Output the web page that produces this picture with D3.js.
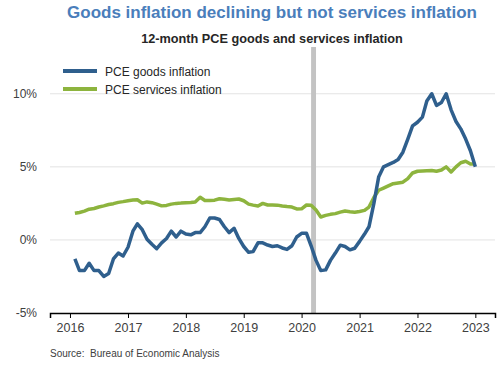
<!DOCTYPE html>
<html>
<head>
<meta charset="utf-8">
<script src="https://cdn.jsdelivr.net/npm/d3@7"></script>
<style>
  html, body { margin: 0; padding: 0; background: #fff; }
  svg { display: block; font-family: "Liberation Sans", Arial, sans-serif; }
</style>
</head>
<body>
<svg id="chart" width="500" height="365"></svg>
<script>
// ---- Data ----
const title = "Goods inflation declining but not services inflation";
const subtitle = "12-month PCE goods and services inflation";
const sourceText = "Source:  Bureau of Economic Analysis";
const seriesNames = ["PCE goods inflation", "PCE services inflation"];
const firstMonth = "2016-02";   // monthly points (12-month % change)
const yTicks = [-5, 0, 5, 10];
const xTickYears = [2016, 2017, 2018, 2019, 2020, 2021, 2022, 2023];
const recession = ["2020-03", "2020-04"];

const goods = [
  -1.3, -2.1, -2.1, -1.6, -2.1, -2.1, -2.5, -2.3, -1.3, -0.9, -1.1,
  -0.5, 0.6, 1.1, 0.7, 0.05, -0.3, -0.6, -0.2, 0.1, 0.6, 0.2, 0.6,
  0.4, 0.35, 0.5, 0.5, 0.9, 1.5, 1.5, 1.4, 0.9, 0.5, 0.8, 0.1,
  -0.45, -0.85, -0.8, -0.2, -0.2, -0.35, -0.45, -0.4, -0.55, -0.65, -0.4, 0.2,
  0.45, 0.45, -0.4, -1.4, -2.1, -2.05, -1.4, -0.9, -0.36, -0.45, -0.68, -0.57,
  -0.1, 0.4, 0.9, 2.5, 4.3, 5.0, 5.15, 5.3, 5.5, 6.0, 6.9, 7.8,
  8.05, 8.4, 9.5, 10.0, 9.2, 9.4, 10.0, 8.9, 8.1, 7.6, 6.9, 6.1,
  5.0
];
const services = [
  1.82, 1.88, 1.97, 2.1, 2.15, 2.25, 2.33, 2.42, 2.48, 2.57, 2.62,
  2.68, 2.73, 2.75, 2.52, 2.6, 2.55, 2.45, 2.33, 2.36, 2.45, 2.5, 2.52,
  2.55, 2.56, 2.6, 2.92, 2.7, 2.7, 2.72, 2.82, 2.78, 2.73, 2.77, 2.8,
  2.68, 2.45, 2.38, 2.32, 2.5, 2.39, 2.39, 2.38, 2.32, 2.28, 2.25, 2.12,
  2.13, 2.39, 2.38, 2.05, 1.57, 1.68, 1.75, 1.8, 1.9, 1.98, 1.93, 1.9,
  1.95, 2.02, 2.25, 2.9, 3.4, 3.55, 3.7, 3.85, 3.9, 3.95, 4.2, 4.58,
  4.7, 4.72, 4.74, 4.75, 4.7, 4.78, 5.0, 4.65, 5.0, 5.28, 5.38, 5.2,
  5.2
];

// ---- Chart ----
const parseMonth = d3.timeParse("%Y-%m");
const start = parseMonth(firstMonth);
const dates = goods.map((_, i) => d3.timeMonth.offset(start, i));

const colors = { goods: "#2f5f8d", services: "#8db43e" };

const svg = d3.select("#chart");
const x = d3.scaleTime()
  .domain([new Date(2015, 7, 28), new Date(2023, 4, 5)])
  .range([50, 495]);
const y = d3.scaleLinear().domain([-5, 13.2]).range([313, 47]);

// Title
svg.append("text").attr("x", 272).attr("y", 18).attr("text-anchor", "middle")
  .attr("font-size", 17).attr("font-weight", "bold").attr("fill", "#4a7ebb")
  .text(title);
svg.append("text").attr("x", 272).attr("y", 43).attr("text-anchor", "middle")
  .attr("font-size", 12.7).attr("font-weight", "bold").attr("fill", "#262626")
  .text(subtitle);

// Gridlines
svg.append("g").selectAll("line").data(yTicks.filter(d => d > -5)).join("line")
  .attr("x1", 50).attr("x2", 495)
  .attr("y1", d => y(d)).attr("y2", d => y(d))
  .attr("stroke", "#e3e3e3").attr("stroke-width", 1);

// Y labels
const yAxis = d3.axisLeft(y).tickValues(yTicks).tickFormat(d => d + "%").tickSize(0).tickPadding(0);
const gy = svg.append("g").attr("transform", "translate(37,0)").call(yAxis);
gy.select(".domain").remove();
gy.selectAll("text").attr("font-size", 12).attr("fill", "#404040")
  .attr("font-family", "Liberation Sans, Arial, sans-serif");

// Recession bar
svg.append("rect")
  .attr("x", x(parseMonth(recession[0])))
  .attr("width", x(parseMonth(recession[1])) - x(parseMonth(recession[0])))
  .attr("y", y(13.2)).attr("height", y(-5) - y(13.2))
  .attr("fill", "#c3c3c3");

// Lines
const line = d3.line().x((d, i) => x(dates[i])).y(d => y(d));
svg.append("path").datum(services).attr("d", line)
  .attr("fill", "none").attr("stroke", colors.services).attr("stroke-width", 3.5)
  .attr("stroke-linejoin", "round");
svg.append("path").datum(goods).attr("d", line)
  .attr("fill", "none").attr("stroke", colors.goods).attr("stroke-width", 3.5)
  .attr("stroke-linejoin", "round");

// X axis
const xAxis = d3.axisBottom(x)
  .tickValues(xTickYears.map(yr => new Date(yr, 0, 1)))
  .tickFormat(d3.timeFormat("%Y")).tickSize(5).tickPadding(5);
const gx = svg.append("g").attr("transform", `translate(0,${y(-5)})`).call(xAxis);
gx.select(".domain").attr("stroke", "#000").attr("stroke-width", 1.5);
gx.selectAll(".tick line").attr("stroke", "#000");
gx.selectAll("text").attr("font-size", 12.5).attr("fill", "#404040")
  .attr("font-family", "Liberation Sans, Arial, sans-serif");

// Legend
const legend = svg.append("g");
[["goods", seriesNames[0]], ["services", seriesNames[1]]].forEach(([k, name], i) => {
  const ly = 71 + i * 18;
  legend.append("line").attr("x1", 63).attr("x2", 97).attr("y1", ly).attr("y2", ly)
    .attr("stroke", colors[k]).attr("stroke-width", 4);
  legend.append("text").attr("x", 105).attr("y", ly + 4.5).attr("font-size", 12)
    .attr("fill", "#262626").text(name);
});

// Source
svg.append("text").attr("x", 50).attr("y", 357).attr("font-size", 10)
  .attr("fill", "#404040").style("white-space", "pre").text(sourceText);
</script>
</body>
</html>
